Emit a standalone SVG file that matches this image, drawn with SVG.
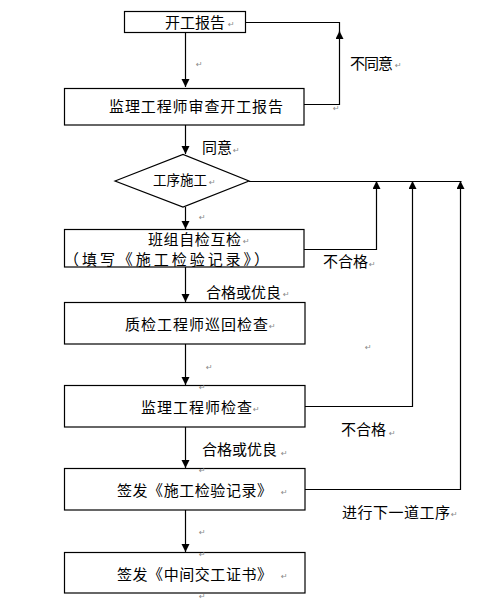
<svg xmlns="http://www.w3.org/2000/svg" width="479" height="608" viewBox="0 0 479 608">
<defs>
<style>
.box{fill:#fff;stroke:#000;stroke-width:1.2}
.ln{fill:none;stroke:#000;stroke-width:1.2}
.t{font-family:"Noto Sans CJK SC","Liberation Sans",sans-serif;font-size:15px;fill:#000}
.s{font-size:13.5px}
.pm{font-family:"DejaVu Sans",sans-serif;font-size:8px;fill:#888}
</style>
<marker id="ah" markerUnits="userSpaceOnUse" markerWidth="8" markerHeight="9" refX="8" refY="4" orient="auto">
<path d="M0,0 L8,4 L0,8 z" fill="#000"/>
</marker>
</defs>
<rect width="479" height="608" fill="#fff"/>

<g id="connectors">
<path class="ln" d="M185.5,32 V87" marker-end="url(#ah)"/>
<path class="ln" d="M304,104.5 H339.5 V31" marker-end="url(#ah)"/>
<path class="ln" d="M339.5,33 V22.5 H246"/>
<path class="ln" d="M185.5,125 V154" marker-end="url(#ah)"/>
<path class="ln" d="M249,181.5 H461.5"/>
<path class="ln" d="M185.5,207 V229" marker-end="url(#ah)"/>
<path class="ln" d="M304,249.5 H376.5 V181" marker-end="url(#ah)"/>
<path class="ln" d="M185.5,267 V302" marker-end="url(#ah)"/>
<path class="ln" d="M185.5,344 V385" marker-end="url(#ah)"/>
<path class="ln" d="M305,406.5 H412.5 V181" marker-end="url(#ah)"/>
<path class="ln" d="M185.5,427 V468" marker-end="url(#ah)"/>
<path class="ln" d="M305,489.5 H460.5 V181" marker-end="url(#ah)"/>
<path class="ln" d="M185.5,510 V552" marker-end="url(#ah)"/>
</g>

<g id="n1"><rect class="box" x="124.5" y="11.5" width="121" height="21"/><text class="t" x="165" y="28">开工报告</text></g>
<g id="n2"><rect class="box" x="64.5" y="88.5" width="239.5" height="36.5"/><text class="t" x="109" y="112" textLength="174">监理工程师审查开工报告</text></g>
<g id="n3"><polygon class="box" points="115,181 183,154.5 249,181 183,207"/><text class="t s" x="153" y="185">工序施工</text></g>
<g id="n4"><rect class="box" x="64.5" y="229.5" width="239.5" height="37.5"/><text class="t" x="148" y="245" textLength="93">班组自检互检</text><text class="t" x="64" y="265" textLength="205">（填写《施工检验记录》）</text></g>
<g id="n5"><rect class="box" x="64.5" y="302.5" width="240.5" height="41.5"/><text class="t" x="125" y="330" textLength="143">质检工程师巡回检查</text></g>
<g id="n6"><rect class="box" x="64.5" y="385.5" width="240.5" height="41.5"/><text class="t" x="141" y="413" textLength="111">监理工程师检查</text></g>
<g id="n7"><rect class="box" x="64.5" y="468.5" width="240.5" height="41.5"/><text class="t" x="117" y="496" textLength="155">签发《施工检验记录》</text></g>
<g id="n8"><rect class="box" x="64.5" y="552.5" width="240.5" height="40.5"/><text class="t" x="117" y="580" textLength="155">签发《中间交工证书》</text></g>

<g id="labels">
<text class="t" x="350" y="69" textLength="43">不同意</text>
<text class="t" x="202" y="153">同意</text>
<text class="t" x="323" y="267">不合格</text>
<text class="t" x="206" y="298">合格或优良</text>
<text class="t" x="341" y="435">不合格</text>
<text class="t" x="202" y="455">合格或优良</text>
<text class="t" x="342" y="518" textLength="108">进行下一道工序</text>
</g>

<g id="marks">
<text class="pm" x="228" y="27">↵</text>
<text class="pm" x="196" y="67">↵</text>
<text class="pm" x="333" y="111">↵</text>
<text class="pm" x="395" y="68">↵</text>
<text class="pm" x="233" y="153">↵</text>
<text class="pm" x="209" y="185">↵</text>
<text class="pm" x="199" y="220">↵</text>
<text class="pm" x="243" y="244">↵</text>
<text class="pm" x="369" y="267">↵</text>
<text class="pm" x="283" y="297">↵</text>
<text class="pm" x="269" y="329">↵</text>
<text class="pm" x="365" y="350">↵</text>
<text class="pm" x="206" y="370">↵</text>
<text class="pm" x="199" y="390">↵</text>
<text class="pm" x="253" y="412">↵</text>
<text class="pm" x="389" y="436">↵</text>
<text class="pm" x="281" y="456">↵</text>
<text class="pm" x="199" y="473">↵</text>
<text class="pm" x="281" y="495">↵</text>
<text class="pm" x="451" y="517">↵</text>
<text class="pm" x="199" y="535">↵</text>
<text class="pm" x="199" y="557">↵</text>
<text class="pm" x="281" y="579">↵</text>
<text class="pm" x="199" y="599">↵</text>
</g>
</svg>
